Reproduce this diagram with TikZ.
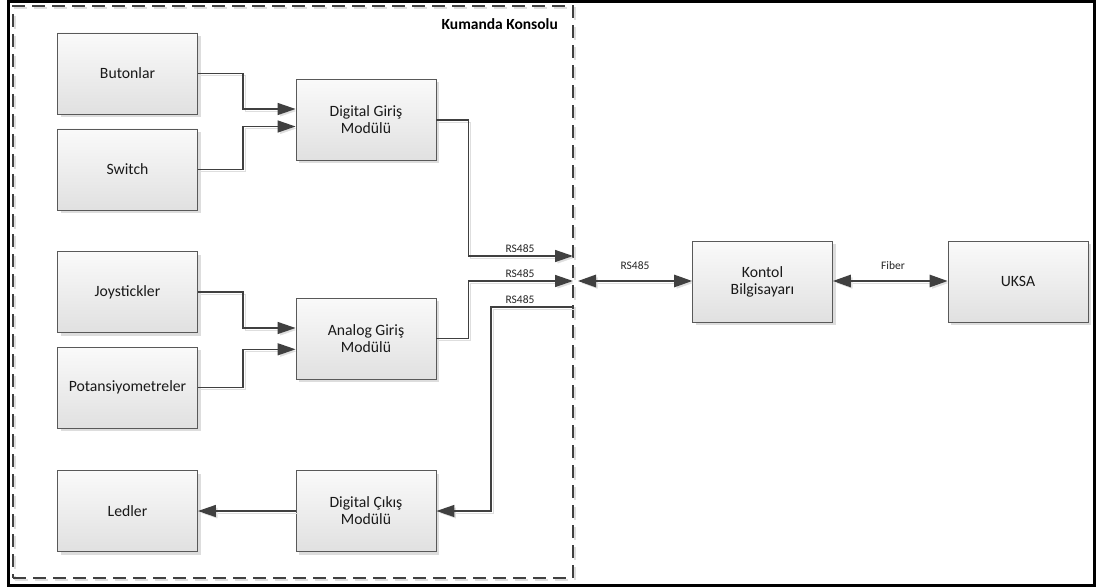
\documentclass[tikz,border=0pt]{standalone}
\usepackage{fontspec}
\setmainfont{Carlito}
\usetikzlibrary{arrows.meta,shadows}
\begin{document}
\begin{tikzpicture}[x=1pt,y=-1pt,
  box/.style={draw=black!65, line width=0.9pt, top color=white!98!black, bottom color=white!88!black,
    minimum width=140pt, minimum height=81pt, align=center, inner sep=2pt,
    font=\fontsize{15.7}{17}\selectfont, text=black!90,
    drop shadow={shadow xshift=3pt, shadow yshift=-3pt, opacity=0.22, fill=black!60}},
  lineshadow/.style={preaction={draw=black!13, transform canvas={shift={(2pt,-2pt)}}}},
  conn/.style={draw=black!75, line width=1.4pt, lineshadow},
  arr/.style={conn, -{Triangle[length=18pt,width=12pt]}},
  darr/.style={conn, {Triangle[length=18pt,width=12.5pt]}-{Triangle[length=18pt,width=12.5pt]}},
  lbl/.style={font=\fontsize{11.5}{13}\selectfont, text=black!85, inner sep=0pt}
]
\useasboundingbox (0,0) rectangle (1097,588);
\fill[white] (0,0) rectangle (1097,588);
% outer frame
\draw[line width=3pt] (8,1.5) rectangle (1094.5,585.5);
% console
\node[draw=black!75, line width=1.9pt, dash pattern=on 13pt off 7pt, minimum width=560pt,
  minimum height=572pt, inner sep=0pt, lineshadow] (console) at (293,292) {};
\node[font=\fontsize{15.5}{17}\selectfont\bfseries, anchor=base east, inner sep=0pt] (title) at (558,30) {Kumanda Konsolu};
% boxes
\node[box] (but) at (127.5,73.5) {Butonlar};
\node[box] (sw) at (127.5,169.5) {Switch};
\node[box] (dgm) at (366,120) {Digital Giriş\\Modülü};
\node[box] (joy) at (127.5,292) {Joystickler};
\node[box] (pot) at (127.5,387.5) {Potansiyometreler};
\node[box] (agm) at (366,338.5) {Analog Giriş\\Modülü};
\node[box] (led) at (127.5,511) {Ledler};
\node[box] (dcm) at (366,511) {Digital Çıkış\\Modülü};
\node[box] (kon) at (762.5,281.5) {Kontol\\Bilgisayarı};
\node[box] (uksa) at (1018,281.5) {UKSA};
% console edge points
\coordinate (c1) at (573,256);
\coordinate (c2) at (573,281);
\coordinate (c3) at (573,307);
\coordinate (c2r) at (578,281);
% connectors
\draw[arr] (but.east) -- ++(45,0) |- ([yshift=11pt]dgm.west);
\draw[arr] (sw.east) -- ++(45,0) |- ([yshift=-6.5pt]dgm.west);
\draw[arr] (joy.east) -- ++(45,0) |- ([yshift=10.5pt]agm.west);
\draw[arr] (pot.east) -- ++(45,0) |- ([yshift=-10.8pt]agm.west);
\draw[arr] (dgm.east) -- ++(32,0) |- (c1);
\draw[arr] (agm.east) -- ++(32,0) |- (c2);
\draw[arr] (c3) -- ++(-82,0) |- (dcm.east);
\draw[arr] (dcm.west) -- (led.east);
\draw[darr] (c2r) -- (kon.west |- c2r);
\draw[darr] (kon.east |- c2r) -- (uksa.west |- c2r);
% labels
\node[lbl] (l1) at (520,248.5) {RS485};
\node[lbl] (l2) at (520,273.5) {RS485};
\node[lbl] (l3) at (520,299.5) {RS485};
\node[lbl] (l4) at (635,265.5) {RS485};
\node[lbl] (l5) at (893,265.5) {Fiber};
\end{tikzpicture}
\end{document}
